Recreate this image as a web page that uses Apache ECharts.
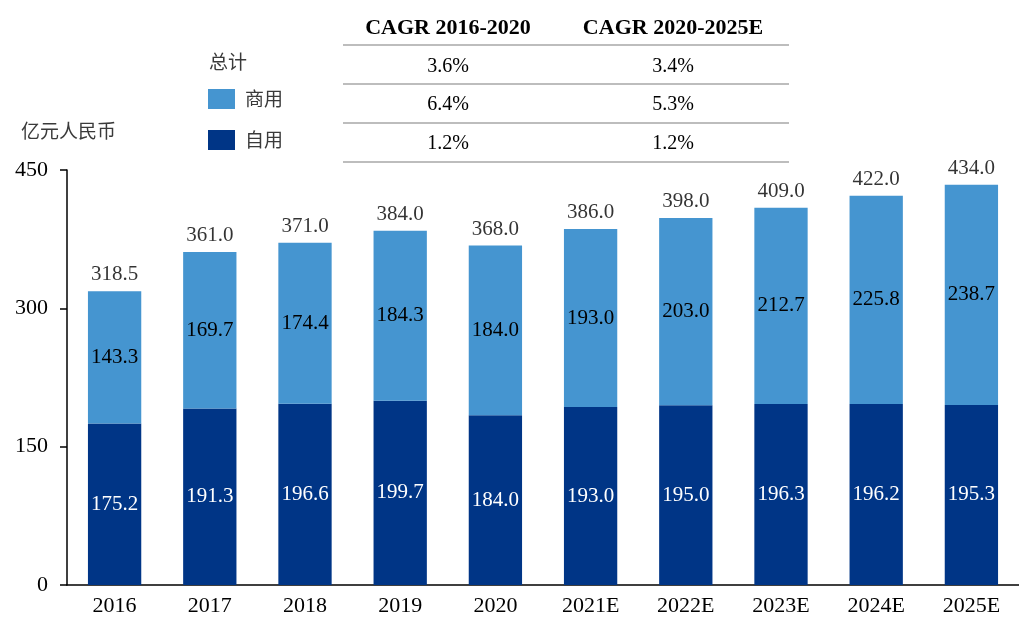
<!DOCTYPE html>
<html>
<head>
<meta charset="utf-8">
<script src="https://cdn.jsdelivr.net/npm/echarts@6/dist/echarts.min.js"></script>
<style>
html,body{margin:0;padding:0;background:#fff;}
#chart{width:1019px;height:617px;}
</style>
</head>
<body>
<div id="chart"></div>
<script>
const categories = ['2016','2017','2018','2019','2020','2021E','2022E','2023E','2024E','2025E'];
const selfUse = [175.2,191.3,196.6,199.7,184.0,193.0,195.0,196.3,196.2,195.3];
const commercial = [143.3,169.7,174.4,184.3,184.0,193.0,203.0,212.7,225.8,238.7];
const totals = [318.5,361.0,371.0,384.0,368.0,386.0,398.0,409.0,422.0,434.0];
const yTicks = [0,150,300,450];
const unitLabel = '亿元人民币';
const cagrHeaders = ['CAGR 2016-2020','CAGR 2020-2025E'];
const cagrRows = ['总计','商用','自用'];
const cagr1620 = ['3.6%','6.4%','1.2%'];
const cagr2025 = ['3.4%','5.3%','1.2%'];

const serif = '"Liberation Serif","Times New Roman","Noto Sans CJK SC",serif';
const cjk = '"Noto Sans CJK SC",sans-serif';
const DARK = '#003586';
const LIGHT = '#4595d0';
const CJK_COLOR = '#3a3a3a';

const chart = echarts.init(document.getElementById('chart'));

const graphics = [];
graphics.push({type:'text', x:21, y:131, style:{text:unitLabel, font:'19px '+cjk, fill:CJK_COLOR, verticalAlign:'middle'}});
const colX = [448, 673];
cagrHeaders.forEach((h,i)=>{
  graphics.push({type:'text', x:colX[i], y:28, style:{text:h, font:'bold 22px '+serif, fill:'#000', align:'center', verticalAlign:'middle'}});
});
[45,84,123,162].forEach(y=>{
  graphics.push({type:'line', shape:{x1:343,y1:y,x2:789,y2:y}, style:{stroke:'#bdbdbd', lineWidth:2}});
});
const rowY = [67,105,144];
cagrRows.forEach((r,i)=>{
  graphics.push({type:'text', x:colX[0], y:rowY[i], style:{text:cagr1620[i], font:'20px '+serif, fill:'#000', align:'center', verticalAlign:'middle'}});
  graphics.push({type:'text', x:colX[1], y:rowY[i], style:{text:cagr2025[i], font:'20px '+serif, fill:'#000', align:'center', verticalAlign:'middle'}});
});
graphics.push({type:'text', x:209, y:62, style:{text:cagrRows[0], font:'19px '+cjk, fill:CJK_COLOR, verticalAlign:'middle'}});

const option = {
  backgroundColor:'#fff',
  animation:false,
  grid:{left:67, top:170, width:963, height:416, containLabel:false},
  legend:{
    orient:'vertical', left:208, top:89, itemWidth:27, itemHeight:20, itemGap:21,
    icon:'rect', padding:0,
    data:[cagrRows[1], cagrRows[2]],
    textStyle:{fontFamily:cjk, fontSize:19, color:CJK_COLOR, padding:[0,0,0,5]}
  },
  xAxis:{
    type:'category', data:categories,
    axisLine:{lineStyle:{color:'#000', width:1.5}},
    axisTick:{show:false},
    axisLabel:{fontFamily:serif, fontSize:22, color:'#000', margin:10}
  },
  yAxis:{
    type:'value', min:0, max:450, interval:150,
    axisLine:{show:true, lineStyle:{color:'#000', width:1.5}},
    axisTick:{show:true, length:7, lineStyle:{color:'#000', width:1.5}},
    splitLine:{show:false},
    axisLabel:{fontFamily:serif, fontSize:22, color:'#000', margin:19,
      formatter:v=> yTicks.includes(v) ? String(v) : ''}
  },
  series:[
    {
      name:cagrRows[2], type:'bar', stack:'t', data:selfUse, barWidth:'56%',
      itemStyle:{color:DARK},
      label:{show:true, position:'inside', fontFamily:serif, fontSize:21, color:'#fff',
        formatter:p=>p.value.toFixed(1)}
    },
    {
      name:cagrRows[1], type:'bar', stack:'t', data:commercial, barWidth:'56%',
      itemStyle:{color:LIGHT},
      label:{show:true, position:'inside', fontFamily:serif, fontSize:21, color:'#000',
        formatter:p=>p.value.toFixed(1)}
    },
    {
      name:'总计', type:'scatter', data:totals, symbolSize:0, silent:true,
      label:{show:true, position:'top', distance:6, fontFamily:serif, fontSize:21, color:'#000',
        formatter:p=>p.value.toFixed(1)}
    }
  ],
  graphic:graphics
};
chart.setOption(option);
</script>
</body>
</html>
